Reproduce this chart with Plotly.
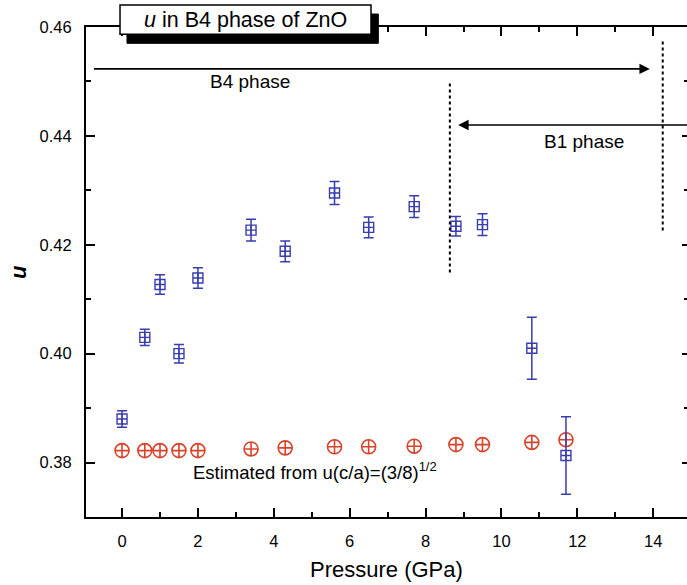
import plotly.graph_objects as go

# ---- data ----
pressure = [0, 0.6, 1.0, 1.5, 2.0, 3.4, 4.3, 5.6, 6.5, 7.7, 8.8, 9.5, 10.8, 11.7]
u_exp = [0.3880, 0.4030, 0.4127, 0.4000, 0.4139, 0.4227, 0.4188, 0.4295,
         0.4232, 0.4270, 0.4234, 0.4237, 0.4010, 0.3813]
u_err = [0.0015, 0.0015, 0.0018, 0.0017, 0.0019, 0.0020, 0.0019, 0.0021,
         0.0019, 0.0020, 0.0018, 0.0020, 0.0057, 0.0071]
u_est = [0.3822, 0.3822, 0.3822, 0.3822, 0.3822, 0.3825, 0.3827, 0.3829,
         0.3829, 0.3830, 0.3833, 0.3833, 0.3837, 0.3842]

y_ticks = [0.38, 0.40, 0.42, 0.44, 0.46]
y_ticklabels = ["0.38", "0.40", "0.42", "0.44", "0.46"]
x_ticks = [0, 2, 4, 6, 8, 10, 12, 14]

title_text = "<i>u</i> in B4 phase of ZnO"
b4_label = "B4 phase"
b1_label = "B1 phase"
est_label = "Estimated from u(c/a)=(3/8)<sup>1/2</sup>"

BLUE = "#3a3db0"
RED = "#d8432c"
FONT = "Arial, Liberation Sans, sans-serif"

fig = go.Figure()

fig.add_trace(go.Scatter(
    x=pressure, y=u_est, mode="markers",
    marker=dict(symbol="circle-cross-open", size=14, color=RED,
                line=dict(width=1.6, color=RED)),
    showlegend=False,
))
fig.add_trace(go.Scatter(
    x=pressure, y=u_exp, mode="markers",
    marker=dict(symbol="square-cross-open", size=10, color=BLUE,
                line=dict(width=1.4, color=BLUE)),
    error_y=dict(type="data", array=u_err, visible=True, color=BLUE,
                 thickness=1.5, width=5),
    showlegend=False,
))
# dummy trace for the right-hand tick axis
fig.add_trace(go.Scatter(x=[None], y=[None], yaxis="y2", showlegend=False))

# dotted phase boundaries
fig.add_shape(type="line", x0=8.64, x1=8.64, y0=0.4149, y1=0.4501,
              line=dict(color="black", width=2, dash="dot"))
fig.add_shape(type="line", x0=14.25, x1=14.25, y0=0.4226, y1=0.4577,
              line=dict(color="black", width=2, dash="dot"))

# title box with shadow
fig.add_shape(type="rect", xref="paper", yref="paper",
              x0=0.0682, x1=0.4864, y0=0.9667, y1=1.0265,
              fillcolor="black", line=dict(color="black", width=1), layer="above")
fig.add_shape(type="rect", xref="paper", yref="paper",
              x0=0.0566, x1=0.4742, y0=0.9851, y1=1.0449,
              fillcolor="white", line=dict(color="black", width=1.5), layer="above")

annotations = [
    dict(text=title_text, xref="paper", yref="paper", x=0.2646, y=1.0153,
         showarrow=False, font=dict(family=FONT, size=21.5, color="black"),
         xanchor="center", yanchor="middle"),
    # B4 arrow
    dict(x=13.91, y=0.4523, ax=-0.78, ay=0.4523, xref="x", yref="y",
         axref="x", ayref="y", text="", showarrow=True, arrowhead=2,
         arrowsize=1.3, arrowwidth=1.6, arrowcolor="black"),
    dict(text=b4_label, x=3.38, y=0.4499, xref="x", yref="y", showarrow=False,
         font=dict(family=FONT, size=19, color="black")),
    # B1 arrow
    dict(x=8.86, y=0.4420, ax=15.2, ay=0.4420, xref="x", yref="y",
         axref="x", ayref="y", text="", showarrow=True, arrowhead=2,
         arrowsize=1.3, arrowwidth=1.6, arrowcolor="black"),
    dict(text=b1_label, x=12.18, y=0.4390, xref="x", yref="y", showarrow=False,
         font=dict(family=FONT, size=19, color="black")),
    dict(text=est_label, x=5.09, y=0.3784, xref="x", yref="y", showarrow=False,
         font=dict(family=FONT, size=18.5, color="black")),
    # axis titles
    dict(text="<b><i>u</i></b>", xref="paper", yref="paper", x=-0.113, y=0.5,
         xanchor="center", yanchor="middle",
         showarrow=False, textangle=-90, font=dict(family=FONT, size=22, color="black")),
    dict(text="Pressure (GPa)", xref="paper", yref="paper", x=0.5, y=-0.108,
         showarrow=False, yanchor="middle", xanchor="center",
         font=dict(family=FONT, size=22, color="black")),
]

fig.update_layout(
    width=687, height=585,
    margin=dict(l=86, r=0, t=27, b=68),
    paper_bgcolor="white", plot_bgcolor="white",
    font=dict(family=FONT, color="black"),
    annotations=annotations,
    xaxis=dict(
        range=[-0.95, 14.89], tickvals=x_ticks,
        showline=True, linecolor="black", linewidth=2, mirror="ticks",
        ticks="inside", ticklen=9, tickwidth=2, tickcolor="black",
        minor=dict(dtick=1, tick0=0, ticks="inside", ticklen=5, tickwidth=2,
                   tickcolor="black"),
        showgrid=False, zeroline=False,
        tickfont=dict(family=FONT, size=16.5, color="black"),
        ticklabelstandoff=8,
    ),
    yaxis=dict(
        range=[0.37, 0.46], tickvals=y_ticks, ticktext=y_ticklabels,
        showline=True, linecolor="black", linewidth=2,
        ticks="inside", ticklen=9, tickwidth=2, tickcolor="black",
        minor=dict(dtick=0.01, tick0=0.37, ticks="inside", ticklen=5,
                   tickwidth=2, tickcolor="black"),
        showgrid=False, zeroline=False,
        tickfont=dict(family=FONT, size=16.5, color="black"),
        ticklabelstandoff=9,
    ),
    yaxis2=dict(
        overlaying="y", side="right", range=[0.37, 0.46], tickvals=y_ticks,
        showline=False, showticklabels=False,
        ticks="inside", ticklen=5, tickwidth=2, tickcolor="black",
        minor=dict(dtick=0.01, tick0=0.37, ticks="inside", ticklen=3,
                   tickwidth=2, tickcolor="black"),
        showgrid=False, zeroline=False,
    ),
)

fig.write_html("out.html")
